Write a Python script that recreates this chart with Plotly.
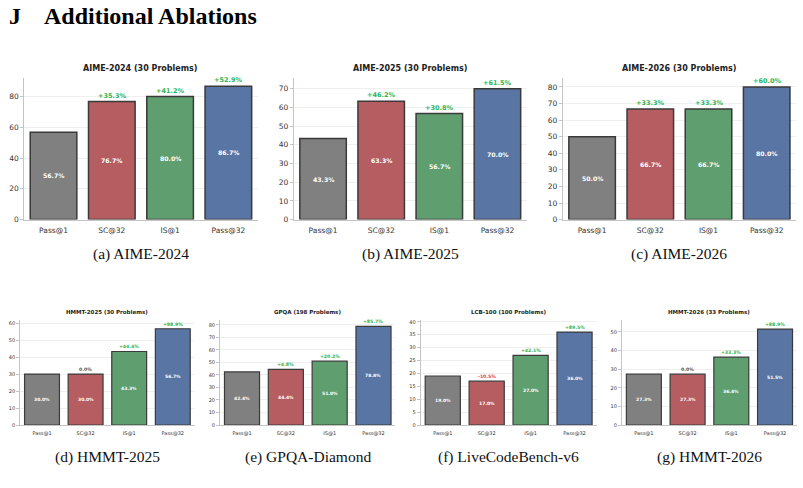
import plotly.graph_objects as go

W, H = 803, 488

methods = ["Pass@1", "SC@32", "IS@1", "Pass@32"]
tick_labels = ["Pass@1", "SC@32", "IS@1", "Pass@32"]

titles = ["AIME-2024 (30 Problems)", "AIME-2025 (30 Problems)", "AIME-2026 (30 Problems)",
          "HMMT-2025 (30 Problems)", "GPQA (198 Problems)", "LCB-100 (100 Problems)",
          "HMMT-2026 (33 Problems)"]
captions = ["(a) AIME-2024", "(b) AIME-2025", "(c) AIME-2026",
            "(d) HMMT-2025", "(e) GPQA-Diamond", "(f) LiveCodeBench-v6", "(g) HMMT-2026"]

aime2024 = [56.7, 76.7, 80.0, 86.7]
aime2025 = [43.3, 63.3, 56.7, 70.0]
aime2026 = [50.0, 66.7, 66.7, 80.0]
hmmt2025 = [30.0, 30.0, 43.3, 56.7]
gpqa = [42.4, 44.4, 51.0, 78.8]
lcb = [19.0, 17.0, 27.0, 36.0]
hmmt2026 = [27.3, 27.3, 36.4, 51.5]

gain_aime2024 = [35.3, 41.2, 52.9]
gain_aime2025 = [46.2, 30.8, 61.5]
gain_aime2026 = [33.3, 33.3, 60.0]
gain_hmmt2025 = [0.0, 44.4, 88.9]
gain_gpqa = [4.8, 20.2, 85.7]
gain_lcb = [-10.5, 42.1, 89.5]
gain_hmmt2026 = [0.0, 33.3, 88.9]

series = [aime2024, aime2025, aime2026, hmmt2025, gpqa, lcb, hmmt2026]
gains = [gain_aime2024, gain_aime2025, gain_aime2026, gain_hmmt2025, gain_gpqa, gain_lcb, gain_hmmt2026]
ytops = [92, 75.7, 85.4, 62, 84.1, 40.8, 56.5]
ydticks = [20, 10, 10, 10, 10, 5, 10]

bar_colors = ["#808080", "#b55d60", "#5f9e6e", "#5975a4"]

# pixel layout: (left, right, top, bottom)
boxes = [(24.4, 257.5, 78, 221.3), (294, 526.5, 78, 221.3), (563, 795.8, 78, 221.3),
         (20.2, 194.6, 322.7, 429.3), (220.1, 395.4, 322.7, 429.3),
         (420.8, 596.5, 322.7, 429.3), (622, 796.9, 322.7, 429.3)]

fig = go.Figure()
annotations = []
FONT = "DejaVu Sans"
SERIF = "Liberation Serif"

for i, (vals, g) in enumerate(zip(series, gains)):
    n = i + 1
    xa = "x" if n == 1 else f"x{n}"
    ya = "y" if n == 1 else f"y{n}"
    top_row = i < 3
    l, r, t, b = boxes[i]
    fs_tick = 7.5 if top_row else 5
    fs_title = 8 if top_row else 5.5
    fs_val = 6.2 if top_row else 4.5
    fs_gain = 6.5 if top_row else 4.6
    lw = 1.5 if top_row else 1.2

    fig.add_trace(go.Bar(
        x=methods, y=vals, xaxis=xa, yaxis=ya, width=0.8,
        marker=dict(color=bar_colors, line=dict(color="#3a3a3a", width=lw)),
        showlegend=False, hoverinfo="skip"))

    xd = [l / W, r / W]
    yd = [1 - b / H, 1 - t / H]
    xkey = "xaxis" if n == 1 else f"xaxis{n}"
    ykey = "yaxis" if n == 1 else f"yaxis{n}"
    fig.update_layout(**{
        xkey: dict(domain=xd, anchor=ya, range=[-0.5, 3.5], type="category",
                   showgrid=False, showline=True, linecolor="#c4c4c4", linewidth=1.2,
                   ticks="", ticklabelstandoff=3 if top_row else 3,
                   tickvals=methods, ticktext=tick_labels,
                   tickfont=dict(family=FONT, size=fs_tick, color="#333333"),
                   zeroline=False, fixedrange=True),
        ykey: dict(domain=yd, anchor=xa, range=[0, ytops[i]],
                   tickmode="linear", tick0=0, dtick=ydticks[i],
                   showgrid=True, gridcolor="#efefef", gridwidth=0.8,
                   showline=True, linecolor="#c4c4c4", linewidth=1.2,
                   ticks="outside", ticklen=3, tickcolor="#c4c4c4",
                   tickfont=dict(family=FONT, size=fs_tick, color="#333333"),
                   zeroline=False, fixedrange=True),
    })

    # title
    annotations.append(dict(xref="paper", yref="paper", x=(l + r) / 2 / W,
                            y=1 - (t - (10 if top_row else 8)) / H,
                            text=titles[i], showarrow=False, xanchor="center", yanchor="middle",
                            font=dict(family=FONT, size=fs_title, color="#222222", weight="bold")))
    # caption
    cy = 256.5 if top_row else 461.5
    annotations.append(dict(xref="paper", yref="paper", x=(l + r) / 2 / W, y=1 - cy / H,
                            text=captions[i], showarrow=False, xanchor="center", yanchor="middle",
                            font=dict(family=SERIF, size=15.5, color="#111111")))
    # value labels
    for m, v in zip(methods, vals):
        annotations.append(dict(xref=xa, yref=ya, x=m, y=v / 2, text=f"{v:.1f}%",
                                showarrow=False, xanchor="center", yanchor="middle",
                                font=dict(family=FONT, size=fs_val, color="white", weight="bold")))
    # gain labels
    for m, v, gv in zip(methods[1:], vals[1:], g):
        if gv > 0:
            txt, col = f"+{gv:.1f}%", "#2eb55a"
        elif gv < 0:
            txt, col = f"{gv:.1f}%", "#d9443a"
        else:
            txt, col = f"{gv:.1f}%", "#555555"
        annotations.append(dict(xref=xa, yref=ya, x=m, y=v, text=txt, showarrow=False,
                                xanchor="center", yanchor="bottom", yshift=0,
                                font=dict(family=FONT, size=fs_gain, color=col, weight="bold")))

# heading
annotations.append(dict(xref="paper", yref="paper", x=7 / W, y=1 - 15.5 / H, text="J",
                        showarrow=False, xanchor="left", yanchor="middle",
                        font=dict(family=SERIF, size=24, color="#000000", weight="bold")))
annotations.append(dict(xref="paper", yref="paper", x=42 / W, y=1 - 15.5 / H,
                        text="Additional Ablations", showarrow=False, xanchor="left", yanchor="middle",
                        font=dict(family=SERIF, size=24, color="#000000", weight="bold")))

fig.update_layout(width=W, height=H, margin=dict(l=0, r=0, t=0, b=0),
                  paper_bgcolor="white", plot_bgcolor="white",
                  annotations=annotations, bargap=0.2)

fig.write_html("out.html", config={"displayModeBar": False})
